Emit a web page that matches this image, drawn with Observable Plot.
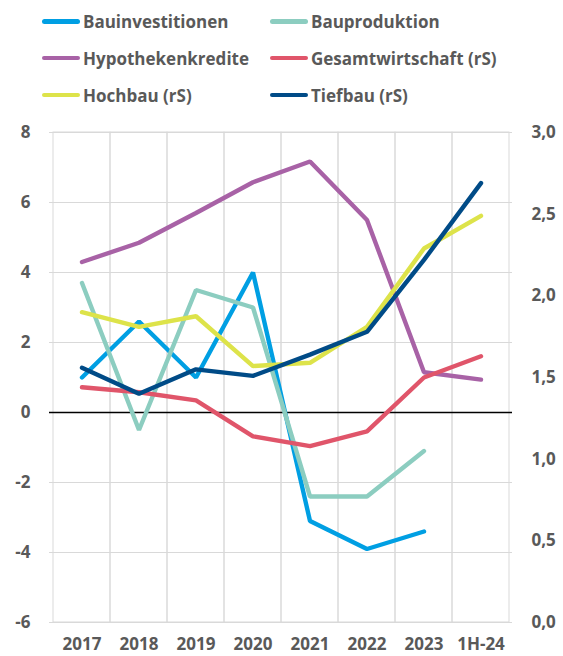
<!DOCTYPE html>
<html><head><meta charset="utf-8">
<script src="https://cdn.jsdelivr.net/npm/d3@7"></script>
<script src="https://cdn.jsdelivr.net/npm/@observablehq/plot@0.6"></script>
<style>
body{margin:0;background:#fff;font-family:"Open Sans",sans-serif;}
#legend{position:relative;height:114px;width:563px;}
.item{position:absolute;display:flex;align-items:center;font-weight:700;font-size:17px;color:#595959;height:24px;white-space:nowrap;}
.sw{width:38px;height:4.5px;border-radius:3px;margin-right:3px;}
#chart svg{display:block;}
</style></head><body>
<div id="legend"></div><div id="chart"></div>
<script>
const categories = ["2017", "2018", "2019", "2020", "2021", "2022", "2023", "1H-24"];
// left axis series
const bauinvestitionen = [1.0, 2.6, 1.0, 4.0, -3.1, -3.9, -3.4, null];
const bauproduktion = [3.7, -0.5, 3.5, 3.0, -2.4, -2.4, -1.1, null];
const hypothekenkredite = [4.3, 4.85, 5.7, 6.58, 7.17, 5.5, 1.15, 0.94];
// right axis series (rS)
const gesamtwirtschaft = [1.44, 1.41, 1.36, 1.14, 1.08, 1.17, 1.50, 1.63];
const hochbau = [1.90, 1.81, 1.875, 1.57, 1.59, 1.81, 2.29, 2.49];
const tiefbau = [1.56, 1.40, 1.55, 1.51, 1.64, 1.78, 2.22, 2.69];

const leftTicks = [-6, -4, -2, 0, 2, 4, 6, 8];
const rightTicks = [0, 0.5, 1, 1.5, 2, 2.5, 3];

const seriesNames = ["Bauinvestitionen", "Bauproduktion", "Hypothekenkredite", "Gesamtwirtschaft (rS)", "Hochbau (rS)", "Tiefbau (rS)"];
const seriesColors = ["#009FE3", "#8CCDC0", "#A862A6", "#E0556A", "#DDE34A", "#004B87"];
const seriesValues = [bauinvestitionen, bauproduktion, hypothekenkredite, gesamtwirtschaft, hochbau, tiefbau];
const seriesRight = [false, false, false, true, true, true];

// map right axis (0..3) onto left axis (-6..8)
const toLeft = v => -6 + v * 14 / 3;
const toRight = v => (v + 6) * 3 / 14;

const rows = [];
seriesNames.forEach((name, i) => {
  seriesValues[i].forEach((v, j) => {
    if (v == null) return;
    rows.push({series: name, cat: categories[j], y: seriesRight[i] ? toLeft(v) : v});
  });
});

// legend
const legend = document.getElementById("legend");
const colX = [42, 270];
const rowY = [21.5, 58, 95];
seriesNames.forEach((name, i) => {
  const el = document.createElement("div");
  el.className = "item";
  el.style.left = colX[i % 2] + "px";
  el.style.top = (rowY[Math.floor(i / 2)] - 12) + "px";
  el.innerHTML = `<span class="sw" style="background:${seriesColors[i]}"></span><span>${name}</span>`;
  legend.appendChild(el);
});

const labelStyle = {fontSize: 17, fontWeight: 700, fill: "#595959"};

const chart = Plot.plot({
  width: 563,
  height: 542,
  marginTop: 18,
  marginBottom: 34,
  marginLeft: 49,
  marginRight: 51,
  style: {fontFamily: "Open Sans, sans-serif", background: "#fff", overflow: "visible"},
  x: {type: "band", domain: categories, padding: 0},
  y: {domain: [-6, 8]},
  color: {domain: seriesNames, range: seriesColors},
  marks: [
    Plot.barY(categories, {x: d => d, y1: -6, y2: 8, fill: "none", stroke: "#d9d9d9", strokeWidth: 1}),
    Plot.ruleY(leftTicks, {stroke: "#d9d9d9", strokeWidth: 1}),
    Plot.ruleY([0], {stroke: "#000", strokeWidth: 1.5}),
    Plot.axisY(leftTicks, {anchor: "left", tickSize: 0, tickPadding: 19, tickFormat: d => String(d), ...labelStyle}),
    Plot.axisY(rightTicks.map(toLeft), {anchor: "right", tickSize: 0, tickPadding: 19, tickFormat: d => d3.format(".1f")(toRight(d)).replace(".", ","), ...labelStyle, textAnchor: "start"}),
    Plot.axisX({anchor: "bottom", tickSize: 0, tickPadding: 15, ...labelStyle}),
    Plot.line(rows, {x: "cat", y: "y", z: "series", stroke: "series", strokeWidth: 4.4, strokeLinejoin: "miter", strokeLinecap: "round"})
  ]
});
chart.querySelectorAll("[aria-label='y-axis label'], [aria-label='x-axis label']").forEach(n => n.remove());
document.getElementById("chart").appendChild(chart);
</script>
</body></html>
